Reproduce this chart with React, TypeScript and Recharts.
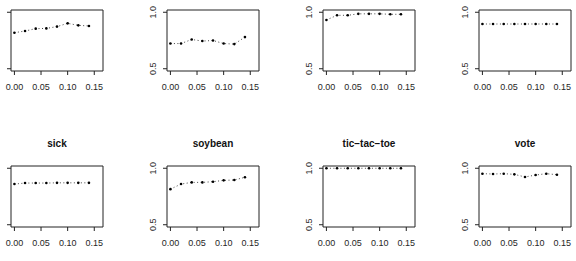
import React from "react";
import {
  LineChart,
  Line,
  XAxis,
  YAxis,
  ReferenceArea,
} from "recharts";

// shared x grid (noise level) for every panel
const noiseLevels = [0, 0.02, 0.04, 0.06, 0.08, 0.1, 0.12, 0.14];
const xTicks = [0, 0.05, 0.1, 0.15];
const yTicks = [0.5, 1.0];

// accuracy per data set
const topRow1 = [0.819, 0.834, 0.855, 0.857, 0.873, 0.902, 0.884, 0.879];
const topRow2 = [0.723, 0.723, 0.759, 0.745, 0.75, 0.723, 0.718, 0.78];
const topRow3 = [0.932, 0.973, 0.973, 0.986, 0.986, 0.986, 0.982, 0.982];
const topRow4 = [0.896, 0.896, 0.896, 0.896, 0.896, 0.896, 0.896, 0.896];
const sick = [0.86, 0.869, 0.869, 0.869, 0.871, 0.871, 0.871, 0.871];
const soybean = [0.815, 0.86, 0.875, 0.875, 0.881, 0.893, 0.896, 0.92];
const ticTacToe = [1.0, 1.0, 1.0, 1.0, 1.0, 1.0, 1.0, 1.0];
const vote = [0.952, 0.949, 0.952, 0.946, 0.923, 0.94, 0.952, 0.943];

const panels = [
  { title: "", values: topRow1 },
  { title: "", values: topRow2 },
  { title: "", values: topRow3 },
  { title: "", values: topRow4 },
  { title: "sick", values: sick },
  { title: "soybean", values: soybean },
  { title: "tic\u2212tac\u2212toe", values: ticTacToe },
  { title: "vote", values: vote },
];

const FONT = "'Liberation Sans', Arial, Helvetica, sans-serif";
const X_DOMAIN: [number, number] = [-0.0064, 0.1664];
const Y_DOMAIN: [number, number] = [0.48, 1.02];

const BOX_W = 92;
const BOX_H = 61;
const Y_AXIS_W = 40;
const X_AXIS_H = 30;
const TOP_PAD = 30;
const RIGHT_PAD = 8;
const COL_LEFT = [10.6, 166.7, 322.8, 478.9];
const ROW_TOP = [9.5, 166];

function XTick(props: any) {
  const { x, y, payload } = props;
  return (
    <text
      x={x}
      y={y + 12.6}
      textAnchor="middle"
      fontSize={9}
      fontFamily={FONT}
      fill="#262626"
    >
      {Number(payload.value).toFixed(2)}
    </text>
  );
}

function YTick(props: any) {
  const { x, y, payload, showText } = props;
  // leftmost column sits against the page edge, its labels fall outside
  if (!showText) return <g />;
  const bx = x - 5.3;
  return (
    <text
      x={bx}
      y={y}
      transform={`rotate(-90 ${bx} ${y})`}
      textAnchor="middle"
      fontSize={9}
      fontFamily={FONT}
      fill="#262626"
    >
      {Number(payload.value).toFixed(1)}
    </text>
  );
}

function Panel({
  title,
  values,
  left,
  top,
  yLabels,
}: {
  title: string;
  values: number[];
  left: number;
  top: number;
  yLabels: boolean;
}) {
  const data = noiseLevels.map((x, i) => ({ x, acc: values[i] }));
  return (
    <div style={{ position: "absolute", left: left - Y_AXIS_W, top: top - TOP_PAD }}>
      <LineChart
        width={Y_AXIS_W + BOX_W + RIGHT_PAD}
        height={TOP_PAD + BOX_H + X_AXIS_H}
        data={data}
        margin={{ top: TOP_PAD, right: RIGHT_PAD, bottom: 0, left: 0 }}
      >
        <XAxis
          dataKey="x"
          type="number"
          domain={X_DOMAIN}
          ticks={xTicks}
          allowDataOverflow
          axisLine={false}
          tickLine={{ stroke: "#222" }}
          tickSize={4}
          tickMargin={2}
          height={X_AXIS_H}
          tick={<XTick />}
          interval={0}
        />
        <YAxis
          type="number"
          domain={Y_DOMAIN}
          ticks={yTicks}
          allowDataOverflow
          axisLine={false}
          tickLine={{ stroke: "#222" }}
          tickSize={4}
          tickMargin={2}
          width={Y_AXIS_W}
          tick={<YTick showText={yLabels} />}
          interval={0}
        />
        <ReferenceArea
          x1={X_DOMAIN[0]}
          x2={X_DOMAIN[1]}
          y1={Y_DOMAIN[0]}
          y2={Y_DOMAIN[1]}
          fill="none"
          fillOpacity={0}
          stroke="#222"
          strokeWidth={1}
          ifOverflow="visible"
          label={
            title
              ? {
                  value: title,
                  position: "top",
                  offset: 19,
                  fontSize: 10,
                  fontWeight: "bold",
                  fontFamily: FONT,
                  fill: "#111",
                }
              : undefined
          }
        />
        <Line
          dataKey="acc"
          stroke="#444"
          strokeWidth={1}
          strokeDasharray="1 2.5"
          dot={{ r: 1.3, fill: "#000", stroke: "#000", strokeWidth: 0 }}
          activeDot={false}
          isAnimationActive={false}
        />
      </LineChart>
    </div>
  );
}

export default function App() {
  return (
    <div
      style={{
        position: "absolute",
        left: 0,
        top: 0,
        width: 576,
        height: 261,
        overflow: "hidden",
        background: "#fff",
      }}
    >
      {panels.map((p, i) => (
        <Panel
          key={i}
          title={p.title}
          values={p.values}
          left={COL_LEFT[i % 4]}
          top={ROW_TOP[Math.floor(i / 4)]}
          yLabels={i % 4 !== 0}
        />
      ))}
    </div>
  );
}
